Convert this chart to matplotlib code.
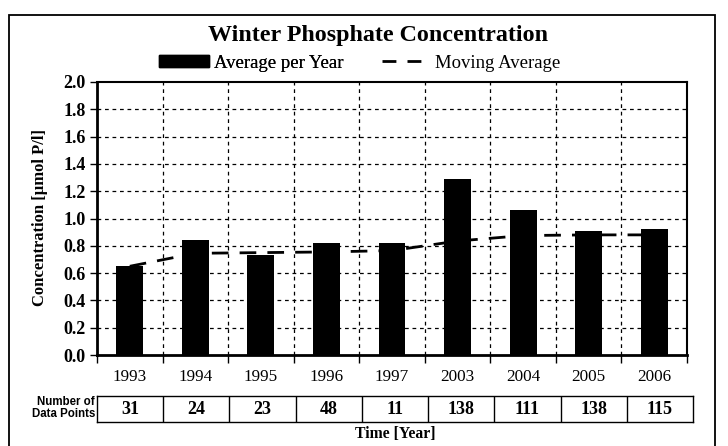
import matplotlib
matplotlib.use("Agg")
import matplotlib.pyplot as plt
from matplotlib.patches import Rectangle, Patch
from matplotlib.lines import Line2D
import numpy as np

years = ["1993", "1994", "1995", "1996", "1997", "2003", "2004", "2005", "2006"]
avg_per_year = [0.65, 0.845, 0.735, 0.82, 0.82, 1.29, 1.065, 0.905, 0.92]
moving_avg = [0.65, 0.745, 0.75, 0.755, 0.765, 0.835, 0.875, 0.88, 0.88]
data_points = [31, 24, 23, 48, 11, 138, 111, 138, 115]
y_ticks = [0.0, 0.2, 0.4, 0.6, 0.8, 1.0, 1.2, 1.4, 1.6, 1.8, 2.0]

W, H = 728, 446
fig = plt.figure(figsize=(W / 100, H / 100), dpi=100)
serif = "Liberation Serif"

# outer frame
fig.patches.append(Rectangle((9 / W, -5 / H), (715 - 9) / W, (446 - 15 + 5) / H,
                             transform=fig.transFigure, fill=False, edgecolor="black",
                             linewidth=1.3))

ax = fig.add_axes([97 / W, (H - 355) / H, (687 - 97) / W, (355 - 82) / H])
x = np.arange(len(years))
ax.set_xlim(-0.5, len(years) - 0.5)
ax.set_ylim(0, 2.0)

# grid
for b in np.arange(0.5, len(years) - 0.5, 1):
    ax.axvline(b, color="black", linewidth=0.9, linestyle=(0, (3, 3)), zorder=1)
for t in y_ticks[1:-1]:
    ax.axhline(t, color="black", linewidth=0.9, linestyle=(0, (3, 3)), zorder=1)

ax.plot(x, moving_avg, color="black", linewidth=2.0, linestyle=(0, (6, 4)), zorder=2)
ax.bar(x, avg_per_year, width=0.41, color="black", zorder=3)

ax.set_yticks(y_ticks)
ax.set_yticklabels([f"{v:.1f}" for v in y_ticks], fontfamily=serif, fontweight="bold",
                   fontsize=13)
ax.set_xticks(np.arange(-0.5, len(years), 1))
ax.set_xticklabels([])
ax.set_xticks(x, minor=True)
ax.set_xticklabels(years, minor=True, fontfamily=serif, fontsize=12.3)
ax.tick_params(axis="x", which="major", length=6, width=1, direction="out")
ax.tick_params(axis="x", which="minor", length=0, pad=10)
ax.tick_params(axis="y", length=5, width=1, direction="out", pad=3)
for s in ["left", "bottom"]:
    ax.spines[s].set_linewidth(2.0)
for s in ["top", "right"]:
    ax.spines[s].set_linewidth(1.5)

fig.text(40 / W, 1 - 217 / H, "Concentration [µmol P/l]", ha="center", va="center",
         rotation=90, fontfamily=serif, fontweight="bold", fontsize=12)

# title
fig.text(378 / W, 1 - 35 / H, "Winter Phosphate Concentration", ha="center", va="center",
         fontfamily=serif, fontweight="bold", fontsize=17.3)

# legend (two entries placed side by side)
fs_leg = 13.5
em = fs_leg * 100 / 72
leg1 = fig.legend([Patch(facecolor="black", edgecolor="black")], ["Average per Year"],
                  loc="center left", bbox_to_anchor=(159 / W, 1 - 63 / H), frameon=False,
                  prop={"family": serif, "size": fs_leg}, handlelength=50 / em,
                  handleheight=0.55, handletextpad=5 / em, borderpad=0, borderaxespad=0)
leg2 = fig.legend([Line2D([0], [0], color="black", linewidth=2, linestyle=(0, (5, 4)))],
                  ["Moving Average"],
                  loc="center left", bbox_to_anchor=(382 / W, 1 - 63 / H), frameon=False,
                  prop={"family": serif, "size": fs_leg}, handlelength=40 / em,
                  handletextpad=13 / em, borderpad=0, borderaxespad=0)
fig.add_artist(leg1)

# table of data points
tax = fig.add_axes([97 / W, (H - 422) / H, (693 - 97) / W, (422 - 396) / H])
tax.set_xlim(0, len(years))
tax.set_ylim(0, 1)
tax.set_xticks([])
tax.set_yticks([])
for s in tax.spines.values():
    s.set_linewidth(1.0)
for i in range(1, len(years)):
    tax.axvline(i, color="black", linewidth=1.0)
for i, n in enumerate(data_points):
    tax.text(i + 0.5, 0.5, str(n), ha="center", va="center", fontfamily=serif,
             fontweight="bold", fontsize=13)

fig.text(95 / W, 1 - 408 / H, "Number of\nData Points", ha="right", va="center",
         fontfamily="Liberation Sans", fontweight="bold",
         fontsize=8.3, linespacing=0.95)

fig.text(395 / W, 1 - 434 / H, "Time [Year]", ha="center", va="center",
         fontfamily=serif, fontweight="bold", fontsize=11.3)

fig.savefig("out.png", dpi=100)
